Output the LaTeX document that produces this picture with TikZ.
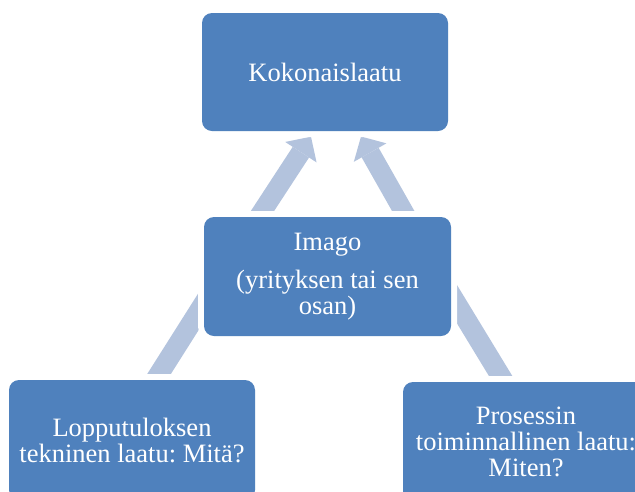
\documentclass[tikz,border=0pt]{standalone}
\usepackage{fontspec}
\setmainfont{Liberation Serif}
\frenchspacing
\usetikzlibrary{calc,arrows.meta,backgrounds}

\definecolor{boxblue}{HTML}{4F81BD}
\definecolor{arrowblue}{HTML}{B3C3DD}

\tikzset{
  qbox/.style={
    fill=boxblue, rounded corners=10pt, inner sep=0pt,
    minimum width=246pt, minimum height=118pt,
    text=white, align=center,
    font=\fontsize{26.5}{26}\selectfont,
    preaction={draw=white, line width=12pt}
  },
  bigarrow/.style={
    draw=arrowblue, line width=#1,
    -{Triangle[width=37.5pt,length=18.5pt,line width=0pt]}
  },
  bigarrow/.default=19.5pt
}

\begin{document}
\begin{tikzpicture}[x=1pt,y=-1pt]
  \path[use as bounding box] (0,0) rectangle (635,491);
  \clip (0,0) rectangle (635,491);

  % quality boxes
  \node[qbox] (top) at (325,72) {Kokonaislaatu};
  \node[qbox, minimum width=247pt, minimum height=119pt] (mid) at (327.5,276.5)
    {Imago\\[12pt](yrityksen tai sen\\osan)};
  \node[qbox, minimum height=120pt] (bl) at (132,440)
    {Lopputuloksen\\tekninen laatu: Mitä?};
  \node[qbox, minimum height=120pt] (br) at (526,442)
    {Prosessin\\toiminnallinen laatu:\\Miten?};

  % block arrows, behind the boxes
  \begin{scope}[on background layer]
    \draw[bigarrow] ($(mid.north)+(-77.3,13)$) -- ($(top.south)+(-14,5.5)$);
    \draw[bigarrow] ($(mid.north)+(86.4,13)$) -- ($(top.south)+(36,5.3)$);
    \draw[bigarrow=20pt] ($(bl.north)+(10.7,20)$) -- ($(mid.west)+(46,-45.9)$);
    \draw[bigarrow=20pt] ($(br.north)+(-10.9,18)$) -- ($(mid.east)+(-31,-32.8)$);
  \end{scope}
\end{tikzpicture}
\end{document}
